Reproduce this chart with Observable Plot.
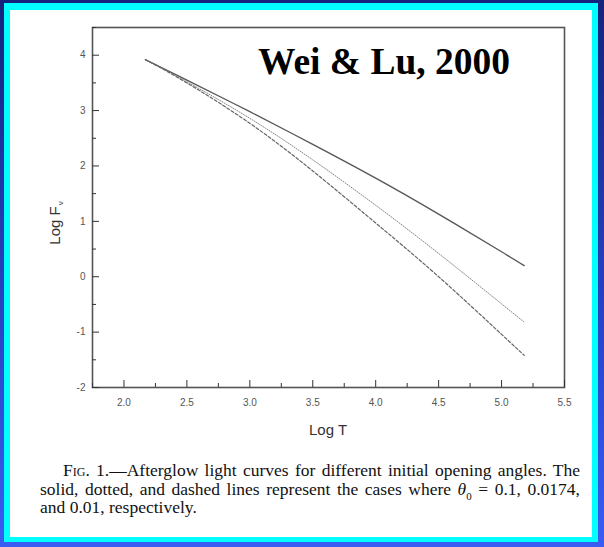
<!DOCTYPE html>
<html>
<head>
<meta charset="utf-8">
<script src="https://cdn.jsdelivr.net/npm/d3@7"></script>
<script src="https://cdn.jsdelivr.net/npm/@observablehq/plot@0.6"></script>
<style>
  html, body { margin: 0; padding: 0; }
  body { width: 604px; height: 547px; position: relative; overflow: hidden; }
  #outer { position: absolute; left: 0; top: 0; width: 604px; height: 547px;
           background: linear-gradient(to bottom, #15237c 0%, #2a44c8 60%, #3a5cf2 100%); }
  #cyan { position: absolute; left: 4px; top: 3px; right: 6px; bottom: 5px; background: #00ffff; }
  #white { position: absolute; left: 10px; top: 10px; right: 12px; bottom: 10px; background: #ffffff; }
  #chart { position: absolute; left: 0; top: 0; }
  #title { position: absolute; left: 258px; top: 43px; font-family: "Liberation Serif", "Times New Roman", serif;
           font-weight: bold; font-size: 37.5px; line-height: 37.5px; color: #000; white-space: nowrap; }
  #caption { position: absolute; left: 40px; top: 461px; width: 540px; font-family: "Liberation Serif", "Times New Roman", serif;
             font-size: 17.5px; line-height: 18.5px; color: #111; }
  .ln { white-space: nowrap; }
  .j { text-align: justify; text-align-last: justify; }
  .sc { font-variant: small-caps; }
</style>
</head>
<body>
<div id="outer"></div>
<div id="cyan"></div>
<div id="white"></div>
<div id="chart"></div>
<div id="title">Wei &amp; Lu, 2000</div>
<div id="caption">
  <div class="ln j" style="margin-left:23px"><span class="sc">Fig.</span> 1.—Afterglow light curves for different initial opening angles. The</div>
  <div class="ln j">solid, dotted, and dashed lines represent the cases where <i>θ</i><sub style="font-size:11px;line-height:0">0</sub> = 0.1, 0.0174,</div>
  <div class="ln">and 0.01, respectively.</div>
</div>
<script>
// Data
const logT   = [2.17, 2.5, 3.0, 3.5, 4.0, 4.5, 5.0, 5.18];
const solid  = [3.92, 3.55, 2.98, 2.39, 1.78, 1.13, 0.45, 0.20];   // theta0 = 0.1
const dotted = [3.92, 3.52, 2.86, 2.11, 1.29, 0.42, -0.49, -0.82]; // theta0 = 0.0174
const dashed = [3.92, 3.50, 2.77, 1.91, 0.97, 0.00, -1.04, -1.42]; // theta0 = 0.01

const xMajor = [2.0, 2.5, 3.0, 3.5, 4.0, 4.5, 5.0, 5.5];
const xMinor = [1.75, 2.25, 2.75, 3.25, 3.75, 4.25, 4.75, 5.25];
const yMajor = [-2, -1, 0, 1, 2, 3, 4];
const yMinor = [-1.5, -0.5, 0.5, 1.5, 2.5, 3.5, 4.5];

const rows = s => logT.map((t, i) => ({t, f: s[i]}));

const plot = Plot.plot({
  width: 604,
  height: 440,
  marginLeft: 92,
  marginRight: 40,
  marginTop: 27,
  marginBottom: 53,
  style: {background: "transparent", fontFamily: "'Liberation Sans', Arial, sans-serif"},
  x: {domain: [1.75, 5.5]},
  y: {domain: [-2, 4.5]},
  marks: [
    Plot.frame({stroke: "#555", strokeWidth: 1.6}),
    Plot.axisX(xMajor, {tickSize: -7, tickPadding: 18, tickFormat: d => d.toFixed(1), fontSize: 10, fill: "#555", stroke: "#333", label: null}),
    Plot.axisX(xMinor, {tickSize: -4, tickFormat: () => "", stroke: "#333", label: null}),
    Plot.axisY(yMajor, {tickSize: -7, tickPadding: 14, tickFormat: d => String(d), fontSize: 10, fill: "#555", stroke: "#333", label: null}),
    Plot.axisY(yMinor, {tickSize: -4, tickFormat: () => "", stroke: "#333", label: null}),
    Plot.line(rows(solid), {x: "t", y: "f", curve: "natural", stroke: "#555", strokeWidth: 1.3}),
    Plot.line(rows(dotted), {x: "t", y: "f", curve: "natural", stroke: "#858585", strokeWidth: 1, strokeDasharray: "1,1.5"}),
    Plot.line(rows(dashed), {x: "t", y: "f", curve: "natural", stroke: "#666", strokeWidth: 1.2, strokeDasharray: "3,2"})
  ]
});

const svg = d3.select(plot);
svg.append("text")
  .attr("x", 328).attr("y", 435)
  .attr("text-anchor", "middle")
  .attr("font-size", 15).attr("fill", "#333")
  .text("Log T");
const yl = svg.append("text")
  .attr("transform", "translate(60,223) rotate(-90)")
  .attr("text-anchor", "middle")
  .attr("font-size", 15).attr("fill", "#333");
yl.append("tspan").text("Log F");
yl.append("tspan").attr("font-size", 8).attr("dy", 3).attr("dx", 1).text("ν");

document.getElementById("chart").appendChild(plot);
</script>
</body>
</html>
